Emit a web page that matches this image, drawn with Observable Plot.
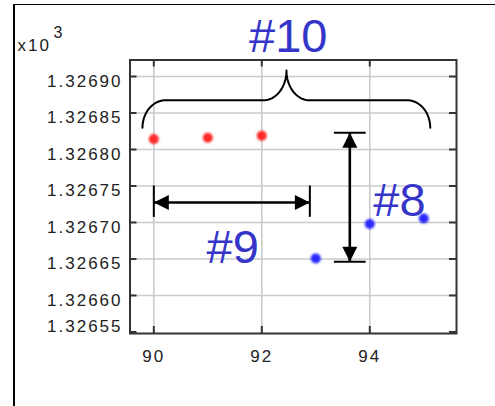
<!DOCTYPE html>
<html><head><meta charset="utf-8">
<script src="https://cdn.jsdelivr.net/npm/d3@7"></script>
<script src="https://cdn.jsdelivr.net/npm/@observablehq/plot@0.6"></script>
<style>
html,body{margin:0;padding:0;background:#fff;}
#wrap{position:relative;width:495px;height:406px;overflow:hidden;}
#border{position:absolute;left:13px;top:4px;width:700px;height:700px;border-left:2px solid #000;border-top:1.5px solid #000;pointer-events:none;}
#wrap svg{position:absolute;left:0;top:0;}
g[aria-label$="tick label"] text, .lab text{letter-spacing:2px;}
</style></head><body><div id="wrap"><div id="border"></div></div>
<script>
// ---- data (values in units of x10^3) ----
const xTicks = [90, 92, 94];
const yTicks = [1.32660, 1.32665, 1.32670, 1.32675, 1.32680, 1.32685, 1.32690];
const yTickBottom = [1.32655];
const redX = [90, 91, 92];
const redY = [1.3268142, 1.326816, 1.3268188];
const blueX = [93, 94, 95];
const blueY = [1.3266508, 1.3266978, 1.3267055];

// annotations (data coordinates)
const labelText = ["#10", "#9", "#8"];
const labelX = [92.49, 91.46, 94.55];
const labelY = [1.3269329, 1.326645, 1.3267092];
const hArrowX = [90, 92.89];
const hArrowY = [1.3267273];
const hBarY = [1.32675, 1.326707];
const vArrowX = [93.63];
const vArrowY = [1.3268229, 1.3266463];
const vBarX = [93.344, 93.933];
// brace: ends x, tip x, end y, bar y, tip y, corner widths (x units)
const braceX = [89.79, 95.12];
const braceTipX = [92.457];
const braceY = [1.3268297, 1.3268674, 1.3269082];
const braceR = [0.426, 0.426];

const W = 495, H = 406, ML = 129.5, MT = 59.5, MR = 39, MB = 73;
const PW = W - ML - MR, PH = H - MT - MB;

function bracePoints() {
  const [x1, x2] = braceX, xm = braceTipX[0];
  const [yE, yB, yT] = braceY;
  const [rx, cw] = braceR;
  const ry = yB - yE, ry2 = yT - yB;
  const pts = [];
  const n = 24;
  for (let i = 0; i <= n; i++) { const t = Math.PI - (Math.PI/2)*i/n; pts.push([x1 + rx + rx*Math.cos(t), yE + ry*Math.sin(t)]); }
  for (let i = 0; i <= n; i++) { const t = -Math.PI/2 + (Math.PI/2)*i/n; pts.push([xm - cw + cw*Math.cos(t), yT + ry2*Math.sin(t)]); }
  for (let i = 0; i <= n; i++) { const t = Math.PI + (Math.PI/2)*i/n; pts.push([xm + cw + cw*Math.cos(t), yT + ry2*Math.sin(t)]); }
  for (let i = 0; i <= n; i++) { const t = Math.PI/2 - (Math.PI/2)*i/n; pts.push([x2 - rx + rx*Math.cos(t), yE + ry*Math.sin(t)]); }
  return pts;
}

const head = { draw(ctx) { ctx.moveTo(0, -10); ctx.lineTo(7.5, 5); ctx.lineTo(-7.5, 5); ctx.closePath(); } };

const red = redX.map((x, i) => ({x, y: redY[i]}));
const blue = blueX.map((x, i) => ({x, y: blueY[i]}));
const labels = labelText.map((t, i) => ({t, x: labelX[i], y: labelY[i]}));

const gridStyle = {stroke: "#cbcbcb", strokeOpacity: 1, strokeWidth: 1.6};
const tickStyle = {stroke: "#333", strokeWidth: 2};

const svg = Plot.plot({
  width: W, height: H,
  marginLeft: ML, marginTop: MT, marginRight: MR, marginBottom: MB,
  style: {fontFamily: "Liberation Sans, Arial, sans-serif", fontSize: "17px", background: "transparent", overflow: "visible"},
  x: {domain: [89.559, 95.606], label: null},
  y: {domain: [1.3265479, 1.3269226], label: null},
  marks: [
    Plot.gridX(xTicks, gridStyle),
    Plot.gridY(yTicks, gridStyle),
    Plot.tickY(yTicks.concat(yTickBottom), {y: d => d, insetRight: PW - 7, ...tickStyle}),
    Plot.tickY(yTicks.concat(yTickBottom), {y: d => d, insetLeft: PW - 7, ...tickStyle}),
    Plot.tickX(xTicks, {x: d => d, insetBottom: PH - 7, ...tickStyle}),
    Plot.tickX(xTicks, {x: d => d, insetTop: PH - 7, ...tickStyle}),
    Plot.frame({stroke: "#333", strokeWidth: 2}),
    Plot.axisY(yTicks, {anchor: "left", tickSize: 0, tickPadding: 7.5, dy: 5, tickFormat: d => d.toFixed(5), fill: "#222", label: null}),
    Plot.axisY(yTickBottom, {anchor: "left", tickSize: 0, tickPadding: 7.5, dy: -5.5, tickFormat: d => d.toFixed(5), fill: "#222", label: null}),
    Plot.axisX(xTicks, {anchor: "bottom", tickSize: 0, tickPadding: 16, tickFormat: d => String(d), fill: "#222", label: null}),
    Plot.text(["x10"], {text: d => d, frameAnchor: "top-left", textAnchor: "start", lineAnchor: "bottom", dx: 17 - ML, dy: 50 - MT, fill: "#222", className: "lab"}),
    Plot.text(["3"], {text: d => d, frameAnchor: "top-left", textAnchor: "start", lineAnchor: "bottom", dx: 53 - ML, dy: 37 - MT, fill: "#222", fontSize: 16}),
    Plot.dot(red, {x: "x", y: "y", r: 5, fill: "#ff2a2a"}),
    Plot.dot(blue, {x: "x", y: "y", r: 5, fill: "#2a2aff"}),
    Plot.line(bracePoints(), {x: d => d[0], y: d => d[1], stroke: "#000", strokeWidth: 2}),
    Plot.link(hArrowY, {x1: () => hArrowX[0], x2: () => hArrowX[1], y1: d => d, y2: d => d, stroke: "#000", strokeWidth: 2.6}),
    Plot.ruleX(hArrowX, {x: d => d, y1: () => hBarY[0], y2: () => hBarY[1], stroke: "#000", strokeWidth: 2}),
    Plot.dot([hArrowX[0]], {x: d => d, y: () => hArrowY[0], symbol: head, rotate: -90, dx: 10, fill: "#000", stroke: "none"}),
    Plot.dot([hArrowX[1]], {x: d => d, y: () => hArrowY[0], symbol: head, rotate: 90, dx: -10, fill: "#000", stroke: "none"}),
    Plot.link(vArrowX, {x1: d => d, x2: d => d, y1: () => vArrowY[0], y2: () => vArrowY[1], stroke: "#000", strokeWidth: 2.6}),
    Plot.ruleY(vArrowY, {y: d => d, x1: () => vBarX[0], x2: () => vBarX[1], stroke: "#000", strokeWidth: 2}),
    Plot.dot([vArrowY[0]], {x: () => vArrowX[0], y: d => d, symbol: head, rotate: 0, dy: 10, fill: "#000", stroke: "none"}),
    Plot.dot([vArrowY[1]], {x: () => vArrowX[0], y: d => d, symbol: head, rotate: 180, dy: -10, fill: "#000", stroke: "none"}),
    Plot.text(labels, {x: "x", y: "y", text: "t", fill: "#3535c9", fontSize: 47, lineAnchor: "bottom", textAnchor: "middle"})
  ]
});

const defs = d3.select(svg).insert("defs", ":first-child");
defs.append("filter").attr("id", "soft").attr("x", "-50%").attr("y", "-50%").attr("width", "200%").attr("height", "200%")
  .append("feGaussianBlur").attr("stdDeviation", 1.1);
d3.select(svg).selectAll("circle").attr("filter", "url(#soft)");
document.getElementById("wrap").appendChild(svg);
</script></body></html>
